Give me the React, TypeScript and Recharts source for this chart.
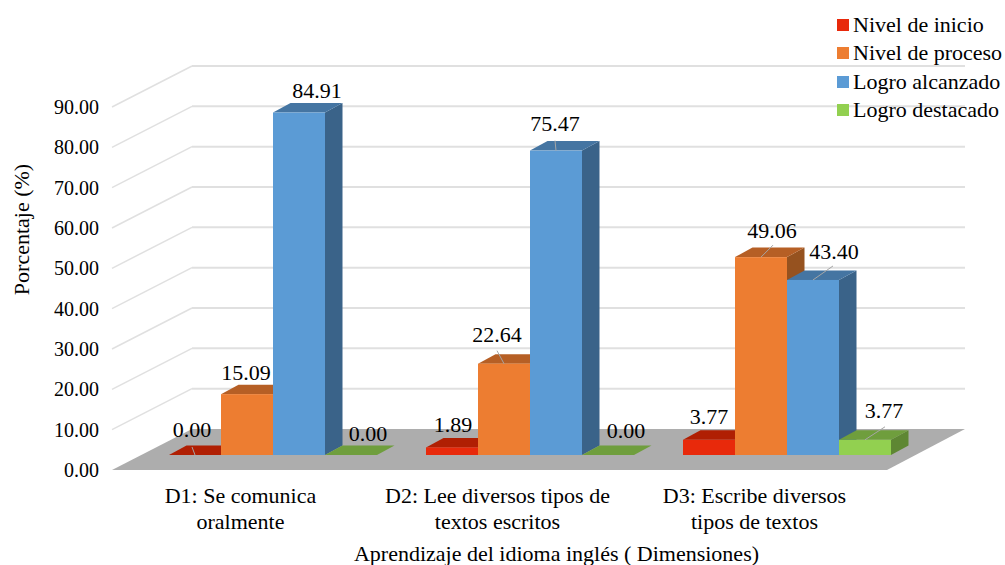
import { BarChart, Bar, XAxis, YAxis, CartesianGrid, Legend, LabelList, Label } from "recharts";

const categories = ["D1: Se comunica|oralmente", "D2: Lee diversos tipos de|textos escritos", "D3: Escribe diversos|tipos de textos"];
const nivelInicio = [0, 1.89, 3.77];
const nivelProceso = [15.09, 22.64, 49.06];
const logroAlcanzado = [84.91, 75.47, 43.4];
const logroDestacado = [0, 0, 3.77];
const yTicks = [0, 10, 20, 30, 40, 50, 60, 70, 80, 90];

const data = categories.map((name, i) => ({
  name,
  inicio: nivelInicio[i],
  proceso: nivelProceso[i],
  alcanzado: logroAlcanzado[i],
  destacado: logroDestacado[i],
}));

const FONT = "'Liberation Serif', 'Times New Roman', serif";
const FONT_SIZE = 22;
const TICK_FONT_SIZE = 20;
const TEXT = "#000000";
const GRID = "#E0E0E0";

// the fake 3D: bars sit forward on the floor, depth goes up and to the right
const SHIFT_X = 32;
const SHIFT_Y = -15;
const DEPTH_X = 17.5;
const DEPTH_Y = -9.5;
const WALL_X = 80;
const WALL_Y = -41;
const FLOOR_Y = 470;

type Offset = { dx: number; dy: number; lx?: number; ly?: number };

// label position relative to the top of each front face, l* = leader line end
const inicioLabels: Offset[] = [
  { dx: -3, dy: -26, lx: -3, ly: -8 },
  { dx: 1, dy: -23 },
  { dx: 0, dy: -23 },
];
const procesoLabels: Offset[] = [
  { dx: -1, dy: -22 },
  { dx: -7, dy: -29, lx: -7, ly: -13 },
  { dx: 11, dy: -27, lx: 12, ly: -12 },
];
const alcanzadoLabels: Offset[] = [
  { dx: 18, dy: -22 },
  { dx: -1, dy: -27, lx: -1, ly: -10 },
  { dx: 21, dy: -28, lx: 20, ly: -14 },
];
const destacadoLabels: Offset[] = [
  { dx: 17, dy: -22 },
  { dx: 18, dy: -25 },
  { dx: 19, dy: -29, lx: 20, ly: -13 },
];

const bar3d = (front: string, top: string, side: string) => (props: any) => {
  const x = props.x + SHIFT_X;
  const y = props.y + SHIFT_Y;
  const w = props.width;
  const h = props.height;
  const topPts = `${x},${y} ${x + w},${y} ${x + w + DEPTH_X},${y + DEPTH_Y} ${x + DEPTH_X},${y + DEPTH_Y}`;
  const sidePts = `${x + w},${y} ${x + w + DEPTH_X},${y + DEPTH_Y} ${x + w + DEPTH_X},${y + h + DEPTH_Y} ${x + w},${y + h}`;
  return (
    <g>
      <polygon points={sidePts} fill={side} />
      <polygon points={topPts} fill={top} />
      <rect x={x} y={y} width={w} height={h} fill={front} />
    </g>
  );
};

const labelRenderer = (offsets: Offset[]) => (props: any) => {
  const o = offsets[props.index];
  const cx = props.x + props.width / 2 + SHIFT_X;
  const top = props.y + SHIFT_Y;
  return (
    <g>
      {o.lx !== undefined && (
        <line x1={cx} y1={top} x2={cx + o.lx} y2={top + (o.ly as number)} stroke="#A6A6A6" strokeWidth={1} />
      )}
      <text x={cx + o.dx} y={top + o.dy} textAnchor="middle" dominantBaseline="central" fontFamily={FONT} fontSize={FONT_SIZE} fill={TEXT}>
        {Number(props.value).toFixed(2)}
      </text>
    </g>
  );
};

// draws the floor and the L shaped wall lines from the grid's own y positions
const gridLine = (props: any) => {
  const { x1, x2, y1 } = props;
  const backY = y1 + WALL_Y;
  if (Math.abs(y1 - FLOOR_Y) < 1) {
    return (
      <polygon
        key={props.key}
        points={`${x1},${y1} ${x1 + WALL_X},${backY} ${x2 + 82},${backY} ${x2 + 4},${y1}`}
        fill="#ADADAD"
      />
    );
  }
  return (
    <g key={props.key}>
      <line x1={x1} y1={y1} x2={x1 + WALL_X} y2={backY} stroke={GRID} strokeWidth={1.5} />
      <line x1={x1 + WALL_X} y1={backY} x2={x2 + 82} y2={backY} stroke={GRID} strokeWidth={2} />
    </g>
  );
};

const CategoryTick = (props: any) => {
  const lines = String(props.payload.value).split("|");
  return (
    <text textAnchor="middle" fontFamily={FONT} fontSize={FONT_SIZE} fill={TEXT}>
      {lines.map((line, i) => (
        <tspan key={line} x={props.x} y={props.y + 25 + i * 26}>
          {line}
        </tspan>
      ))}
    </text>
  );
};

const ValueTick = (props: any) => (
  <text x={props.x + 1} y={props.y + 7} textAnchor="end" fontFamily={FONT} fontSize={TICK_FONT_SIZE} fill={TEXT}>
    {Number(props.payload.value).toFixed(2)}
  </text>
);

const LegendBox = (props: any) => (
  <div style={{ fontFamily: FONT, fontSize: FONT_SIZE, color: TEXT, lineHeight: "28.3px" }}>
    {props.payload.map((item: any) => (
      <div key={item.value} style={{ display: "flex", alignItems: "center", whiteSpace: "nowrap" }}>
        <span style={{ width: 12, height: 12, background: item.color, marginRight: 4, display: "inline-block" }} />
        {item.value}
      </div>
    ))}
  </div>
);

export default function App() {
  return (
    <div style={{ position: "absolute", left: 0, top: 0, width: 1005, height: 565, background: "#fff" }}>
      <BarChart
        width={1005}
        height={565}
        data={data}
        margin={{ top: 107, right: 122, bottom: 0, left: 0 }}
        barSize={52}
        barGap={0}
      >
        <CartesianGrid vertical={false} horizontal={gridLine} syncWithTicks />
        <XAxis dataKey="name" height={95} axisLine={false} tickLine={false} interval={0} tick={<CategoryTick />}>
          <Label
            value="Aprendizaje del idioma inglés ( Dimensiones)"
            position="insideBottom"
            dx={59}
            dy={1}
            style={{ fontFamily: FONT, fontSize: FONT_SIZE, fill: TEXT }}
          />
        </XAxis>
        <YAxis
          width={112}
          domain={[0, 90]}
          ticks={yTicks}
          interval={0}
          axisLine={false}
          tickLine={false}
          tickSize={0}
          tickMargin={14}
          tick={<ValueTick />}
        >
          <Label
            value="Porcentaje (%)"
            angle={-90}
            position="insideLeft"
            dx={16}
            dy={-59}
            style={{ fontFamily: FONT, fontSize: FONT_SIZE, fill: TEXT, textAnchor: "middle" }}
          />
        </YAxis>
        <Legend
          layout="vertical"
          verticalAlign="middle"
          align="center"
          itemSorter={null}
          content={<LegendBox />}
          wrapperStyle={{ position: "absolute", left: 837, top: 11, width: 168, height: 114 }}
        />
        <Bar dataKey="inicio" name="Nivel de inicio" fill="#E8290B" isAnimationActive={false} shape={bar3d("#E8290B", "#B01F03", "#8E1A04")}>
          <LabelList dataKey="inicio" content={labelRenderer(inicioLabels)} />
        </Bar>
        <Bar dataKey="proceso" name="Nivel de proceso" fill="#ED7D31" isAnimationActive={false} shape={bar3d("#ED7D31", "#B65F25", "#96521F")}>
          <LabelList dataKey="proceso" content={labelRenderer(procesoLabels)} />
        </Bar>
        <Bar dataKey="alcanzado" name="Logro alcanzado" fill="#5B9BD5" isAnimationActive={false} shape={bar3d("#5B9BD5", "#4575A2", "#3A6389")}>
          <LabelList dataKey="alcanzado" content={labelRenderer(alcanzadoLabels)} />
        </Bar>
        <Bar dataKey="destacado" name="Logro destacado" fill="#92D050" isAnimationActive={false} shape={bar3d("#92D050", "#6F9E3D", "#5E8733")}>
          <LabelList dataKey="destacado" content={labelRenderer(destacadoLabels)} />
        </Bar>
      </BarChart>
    </div>
  );
}
